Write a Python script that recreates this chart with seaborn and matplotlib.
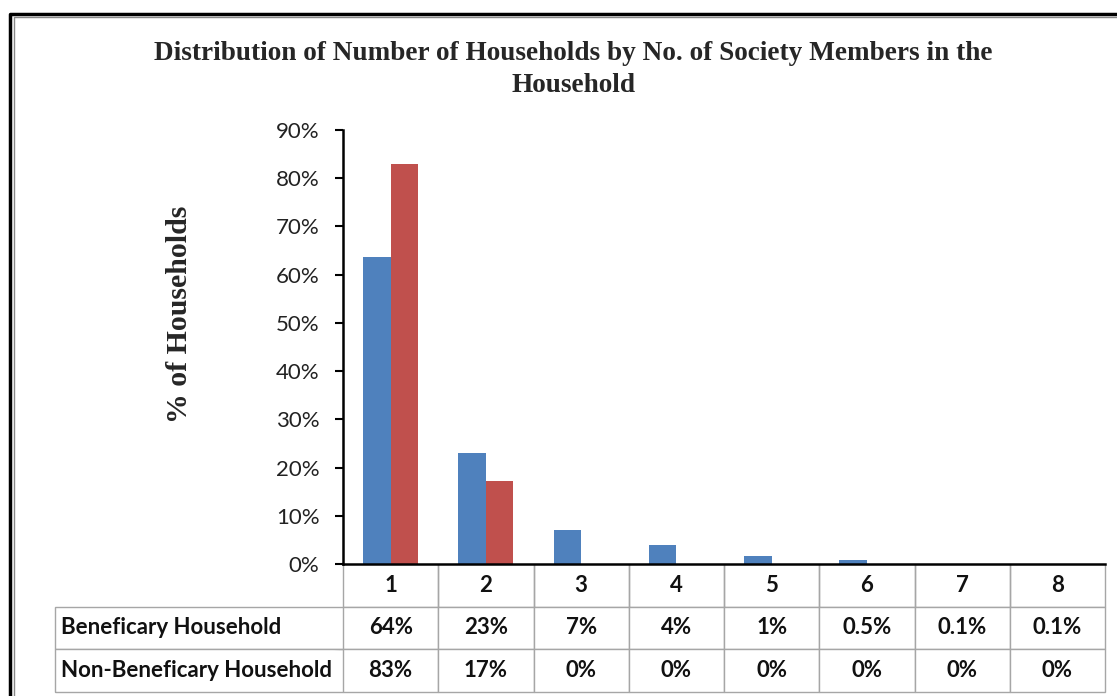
import matplotlib
matplotlib.use("Agg")

import matplotlib.pyplot as plt
from matplotlib.lines import Line2D
import seaborn as sns
import pandas as pd

# data
categories = ["1", "2", "3", "4", "5", "6", "7", "8"]
series_names = ["Beneficary Household", "Non-Beneficary Household"]
benef_values = [63.6, 23.1, 7.1, 3.9, 1.7, 0.8, 0.1, 0.1]
nonbenef_values = [83.0, 17.2, 0, 0, 0, 0, 0, 0]
benef_labels = ["64%", "23%", "7%", "4%", "1%", "0.5%", "0.1%", "0.1%"]
nonbenef_labels = ["83%", "17%", "0%", "0%", "0%", "0%", "0%", "0%"]
yticks = [0, 10, 20, 30, 40, 50, 60, 70, 80, 90]

colors = ["#4F81BD", "#C0504D"]
grid_grey = "#A6A6A6"

sns.set_style("white")
plt.rcParams["font.family"] = ["Lato", "DejaVu Sans"]

df = pd.DataFrame({
    "members": categories * 2,
    "share": benef_values + nonbenef_values,
    "group": [series_names[0]] * len(categories) + [series_names[1]] * len(categories),
})

fig = plt.figure(figsize=(11.17, 6.96), dpi=100)
ax = fig.add_axes([343 / 1117, 1 - 564 / 696, 762 / 1117, 434 / 696])

sns.barplot(data=df, x="members", y="share", hue="group", palette=colors,
            saturation=1, width=0.575, gap=0, edgecolor="none", legend=False, ax=ax)

ax.set_xlim(-0.5, len(categories) - 0.5)
ax.set_ylim(0, 90)
ax.set_yticks(yticks)
ax.set_yticklabels([f"{v}%" for v in yticks], fontsize=16, color="#222222")
ax.set_xticks([])
ax.set_xlabel("")
ax.tick_params(axis="y", direction="out", length=6, width=1.5, pad=11, left=True, color="black")

for s in ["top", "right"]:
    ax.spines[s].set_visible(False)
for s in ["left", "bottom"]:
    ax.spines[s].set_color("black")
    ax.spines[s].set_linewidth(1.8)
    ax.spines[s].set_zorder(5)

ax.set_ylabel("% of Households", family=["Liberation Serif", "DejaVu Serif"],
              fontweight="bold", fontsize=21.5)
ax.yaxis.set_label_coords(-0.197, 0.576)

# data table under the axis
cell_text = [[""] + categories,
             [series_names[0]] + benef_labels,
             [series_names[1]] + nonbenef_labels]
col_w = [288 / 1050] + [95.25 / 1050] * len(categories)
tbl = ax.table(cellText=cell_text, cellLoc="center", colWidths=col_w,
               bbox=[-288 / 762, -128 / 434, 1050 / 762, 128 / 434])
tbl.auto_set_font_size(False)
tbl.set_fontsize(16)
tbl.set_zorder(1)
for (r, c), cell in tbl.get_celld().items():
    cell.set_edgecolor(grid_grey)
    cell.set_linewidth(1.0)
    cell.set_text_props(fontweight="bold", color="#111111")
    if r == 0:
        cell.visible_edges = "" if c == 0 else "BRL"
    if c == 0:
        cell.set_text_props(ha="left")
        cell.PAD = 0.022
        if r > 0:
            cell.visible_edges = "BTL"

fig.suptitle("Distribution of Number of Households by No. of Society Members in the\nHousehold",
             family=["Liberation Serif", "DejaVu Serif"], fontweight="bold",
             fontsize=19.6, x=573 / 1117, y=1 - 41 / 696, linespacing=1.38)

# double outer frame, as in the source screenshot
fig.add_artist(Line2D([10 / 1117, 10 / 1117, 1.2], [-0.2, 1 - 14 / 696, 1 - 14 / 696],
                      transform=fig.transFigure, color="black", lw=2.5))
fig.add_artist(Line2D([13.5 / 1117, 13.5 / 1117, 1.2], [-0.2, 1 - 17 / 696, 1 - 17 / 696],
                      transform=fig.transFigure, color="#888888", lw=1))

fig.savefig("out.png", dpi=100)
plt.close(fig)
